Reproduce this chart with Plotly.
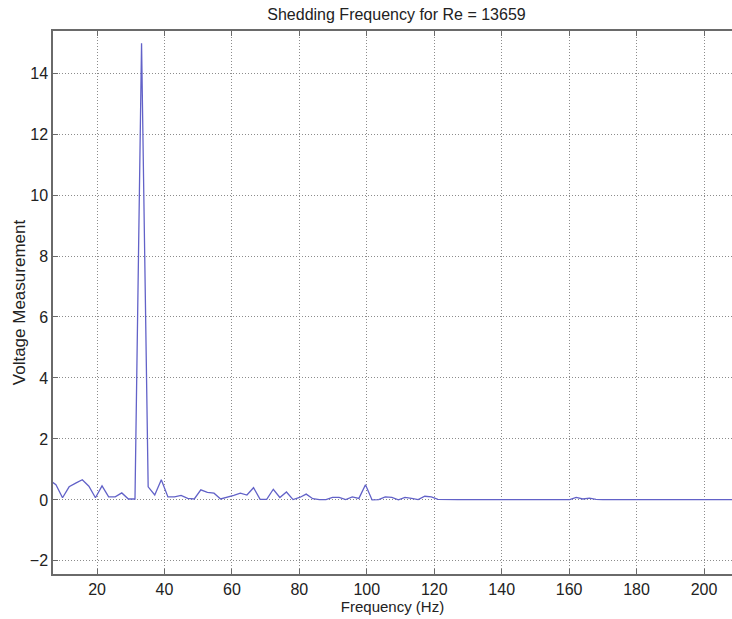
import plotly.graph_objects as go

title_text = "Shedding Frequency for Re = 13659"
x_label = "Frequency (Hz)"
y_label = "Voltage Measurement"

frequency_hz = [
    5.86, 7.81, 9.77, 11.72, 13.67, 15.63, 17.58, 19.53, 21.48, 23.44,
    25.39, 27.34, 29.30, 31.25, 33.20, 35.16, 37.11, 39.06, 41.02, 42.97,
    44.92, 46.88, 48.83, 50.78, 52.73, 54.69, 56.64, 58.59, 60.55, 62.50,
    64.45, 66.41, 68.36, 70.31, 72.27, 74.22, 76.17, 78.13, 80.08, 82.03,
    83.98, 85.94, 87.89, 89.84, 91.80, 93.75, 95.70, 97.66, 99.61, 101.56,
    103.52, 105.47, 107.42, 109.38, 111.33, 113.28, 115.23, 117.19, 119.14, 121.09,
    123.05, 125.00, 126.95, 128.91, 130.86, 132.81, 134.77, 136.72, 138.67, 140.63,
    142.58, 144.53, 146.48, 148.44, 150.39, 152.34, 154.30, 156.25, 158.20, 160.16,
    162.11, 164.06, 166.02, 167.97, 169.92, 171.88, 173.83, 175.78, 177.73, 179.69,
    181.64, 183.59, 185.55, 187.50, 189.45, 191.41, 193.36, 195.31, 197.27, 199.22,
    201.17, 203.13, 205.08, 207.03, 208.98, 210.94,
]

voltage = [
    0.65, 0.50, 0.07, 0.43, 0.55, 0.66, 0.45, 0.07, 0.46, 0.10,
    0.10, 0.23, 0.03, 0.03, 14.98, 0.43, 0.16, 0.66, 0.10, 0.10,
    0.15, 0.05, 0.03, 0.33, 0.25, 0.22, 0.03, 0.08, 0.15, 0.22,
    0.16, 0.40, 0.02, 0.02, 0.35, 0.08, 0.26, 0.01, 0.08, 0.19,
    0.04, 0.01, 0.01, 0.08, 0.08, 0.01, 0.10, 0.05, 0.50, 0.00,
    0.01, 0.10, 0.08, 0.00, 0.08, 0.05, 0.01, 0.12, 0.10, 0.02,
    0.01, 0.01, 0.01, 0.01, 0.01, 0.02, 0.01, 0.01, 0.03, 0.01,
    0.01, 0.01, 0.01, 0.01, 0.03, 0.01, 0.02, 0.03, 0.02, 0.01,
    0.08, 0.03, 0.06, 0.02, 0.01, 0.01, 0.01, 0.01, 0.01, 0.01,
    0.03, 0.01, 0.01, 0.01, 0.01, 0.01, 0.01, 0.01, 0.03, 0.01,
    0.01, 0.01, 0.01, 0.03, 0.01, 0.01,
]

x_ticks = [20, 40, 60, 80, 100, 120, 140, 160, 180, 200]
y_ticks = [-2, 0, 2, 4, 6, 8, 10, 12, 14]

fig = go.Figure()
fig.add_trace(go.Scatter(
    x=frequency_hz, y=voltage, mode="lines",
    line=dict(color="#6262c8", width=1.3),
    hoverinfo="x+y", showlegend=False,
))

font_family = "Liberation Sans, Arial, sans-serif"
axis_common = dict(
    showline=True, linecolor="#6a6a6a", linewidth=1.5,
    ticks="inside", ticklen=5, tickwidth=1, tickcolor="#6a6a6a",
    showgrid=True, gridcolor="#8c8c8c", gridwidth=1, griddash="1px,2px",
    zeroline=False, automargin=False,
    tickfont=dict(family=font_family, size=16, color="#222"),
)

fig.update_layout(
    width=732, height=619,
    margin=dict(l=53, r=0, t=31, b=45),
    paper_bgcolor="white", plot_bgcolor="white",
    font=dict(family=font_family, color="#222"),
    title=dict(text=title_text, x=396.5 / 732, xref="container", xanchor="center",
               y=1 - 14 / 619, yref="container", yanchor="middle",
               font=dict(family=font_family, size=16, color="#222")),
    xaxis=dict(range=[6.94, 208.3], tickvals=x_ticks, mirror="ticks",
               title=dict(text=x_label, font=dict(family=font_family, size=15, color="#222"), standoff=2),
               **axis_common),
    yaxis=dict(range=[-2.43, 15.38], tickvals=y_ticks, mirror=False,
               title=dict(text=y_label, font=dict(family=font_family, size=17, color="#222"), standoff=0),
               **axis_common),
)

fig.write_html(
    "out.html",
    config={"displayModeBar": False},
    post_script="document.body.style.margin='0';document.body.style.overflow='hidden';",
)
